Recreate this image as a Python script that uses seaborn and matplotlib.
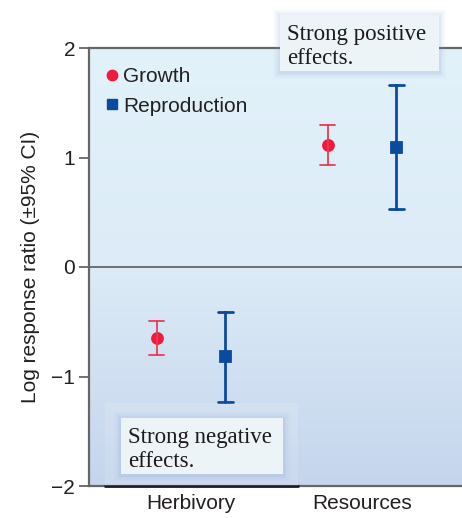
import numpy as np
import pandas as pd
import matplotlib
matplotlib.use("Agg")
import matplotlib.pyplot as plt
import seaborn as sns
from matplotlib.patches import Rectangle
from matplotlib.lines import Line2D
from matplotlib.colors import LinearSegmentedColormap

# ---------------- data ----------------
categories = ["Herbivory", "Resources"]
series = ["Growth", "Reproduction"]
growth_mean = [-0.65, 1.11]
growth_lo = [-0.80, 0.93]
growth_hi = [-0.49, 1.30]
repro_mean = [-0.81, 1.10]
repro_lo = [-1.23, 0.53]
repro_hi = [-0.41, 1.66]
y_ticks = [-2, -1, 0, 1, 2]
y_label = "Log response ratio (\u00b195% CI)"
note_pos = "Strong positive\neffects."
note_neg = "Strong negative\neffects."

rows = []
for s, m, lo, hi in [("Growth", growth_mean, growth_lo, growth_hi),
                     ("Reproduction", repro_mean, repro_lo, repro_hi)]:
    for i, c in enumerate(categories):
        for v in (lo[i], m[i], hi[i]):
            rows.append({"treatment": c, "trait": s, "lrr": v})
df = pd.DataFrame(rows)

# ---------------- style ----------------
sns.set_theme(style="white")
plt.rcParams["font.family"] = ["Liberation Sans", "DejaVu Sans"]
plt.rcParams["axes.unicode_minus"] = True

W, H = 462, 518
fig = plt.figure(figsize=(W / 100, H / 100), dpi=100)
fig.patch.set_facecolor("white")


def fx(x):
    return x / W


def fy(y):
    return 1 - y / H


ax = fig.add_axes([fx(89), fy(486), fx(462) - fx(89), fy(48) - fy(486)])

pal = {"Growth": "#ee1b3d", "Reproduction": "#0b4b9f"}
styles = {
    "Growth": dict(marker="o", ms=7.2, lw=1.3, ecolor="#ec3a55"),
    "Reproduction": dict(marker="s", ms=7.0, lw=2.0, ecolor="#0b4b9f"),
}

for s in series:
    st = styles[s]
    sns.pointplot(
        data=df[df.trait == s], x="treatment", y="lrr", hue="trait",
        order=categories, hue_order=series, palette=pal,
        estimator="median", errorbar=("pi", 100), dodge=0.4,
        markers=st["marker"], linestyle="none", capsize=0.09,
        err_kws={"linewidth": st["lw"], "color": st["ecolor"]},
        markersize=st["ms"], legend=False, ax=ax, zorder=4,
    )

xlim = ((89 - 191) / 171, (462 - 191) / 171)

# background gradient
cmap = LinearSegmentedColormap.from_list(
    "bg", [(0.0, "#c5d5ec"), (0.5, "#dcebf7"), (1.0, "#e2f2fa")])
grad = np.linspace(0, 1, 256).reshape(-1, 1)
ax.imshow(grad, extent=[xlim[0], xlim[1], -2, 2], origin="lower",
          aspect="auto", cmap=cmap, zorder=0)

ax.set_xlim(*xlim)
ax.set_ylim(-2, 2)
ax.set_yticks(y_ticks)
ax.axhline(0, color="#5a5a5a", lw=1.2, zorder=1.5)

for side in ["left", "top", "bottom"]:
    ax.spines[side].set_visible(True)
    ax.spines[side].set_color("#666666")
    ax.spines[side].set_linewidth(1.6)
ax.spines["right"].set_visible(False)

ax.tick_params(axis="y", length=7, width=1.3, color="#666666",
               labelsize=15, pad=3, left=True, labelcolor="#231f20")
ax.tick_params(axis="x", length=0, labelsize=15, pad=6, labelcolor="#231f20")
ax.set_xlabel("")
ax.set_ylabel(y_label, fontsize=15, labelpad=8, color="#231f20")

# dark segment on bottom spine below the negative note
ax.axhline(-2, xmin=(105 - 89) / 373, xmax=(298 - 89) / 373,
           color="#1c1c28", lw=2.0, zorder=6, clip_on=False)

# legend
handles = [
    Line2D([], [], marker="o", ls="none", color=pal["Growth"], markersize=7.5),
    Line2D([], [], marker="s", ls="none", color=pal["Reproduction"], markersize=7),
]
ax.legend(handles, series, loc="upper left", bbox_to_anchor=(0.025, 0.975),
          frameon=False, fontsize=15, handlelength=0.5, handletextpad=0.3,
          labelspacing=0.5, borderaxespad=0, labelcolor="#231f20")


# annotation notes
def note(text, x0, y0, x1, y1):
    for k, a in [(7, 0.04), (5, 0.05), (3, 0.07), (1.5, 0.09)]:
        fig.add_artist(Rectangle((fx(x0 - k), fy(y1 + k + 1)),
                                 (x1 - x0 + 2 * k) / W, (y1 - y0 + 2 * k) / H,
                                 facecolor="#7f9fd6", alpha=a, lw=0, zorder=5))
    fig.add_artist(Rectangle((fx(x0), fy(y1)), (x1 - x0) / W, (y1 - y0) / H,
                             facecolor="#edf4f8", edgecolor="none", zorder=6))
    fig.text(fx(x0 + 7), fy(y0 + 9), text, family=["Liberation Serif", "DejaVu Serif"],
             fontsize=16.5, va="top", ha="left", linespacing=1.2,
             color="#1e1a1b", zorder=7)


fig.add_artist(Rectangle((fx(105), fy(486)), (298 - 105) / W, (486 - 403) / H,
                         facecolor="white", alpha=0.12, lw=0, zorder=4))
note(note_pos, 280, 15, 439, 71)
note(note_neg, 121, 418, 283, 474)

fig.savefig("out.png", dpi=100)
